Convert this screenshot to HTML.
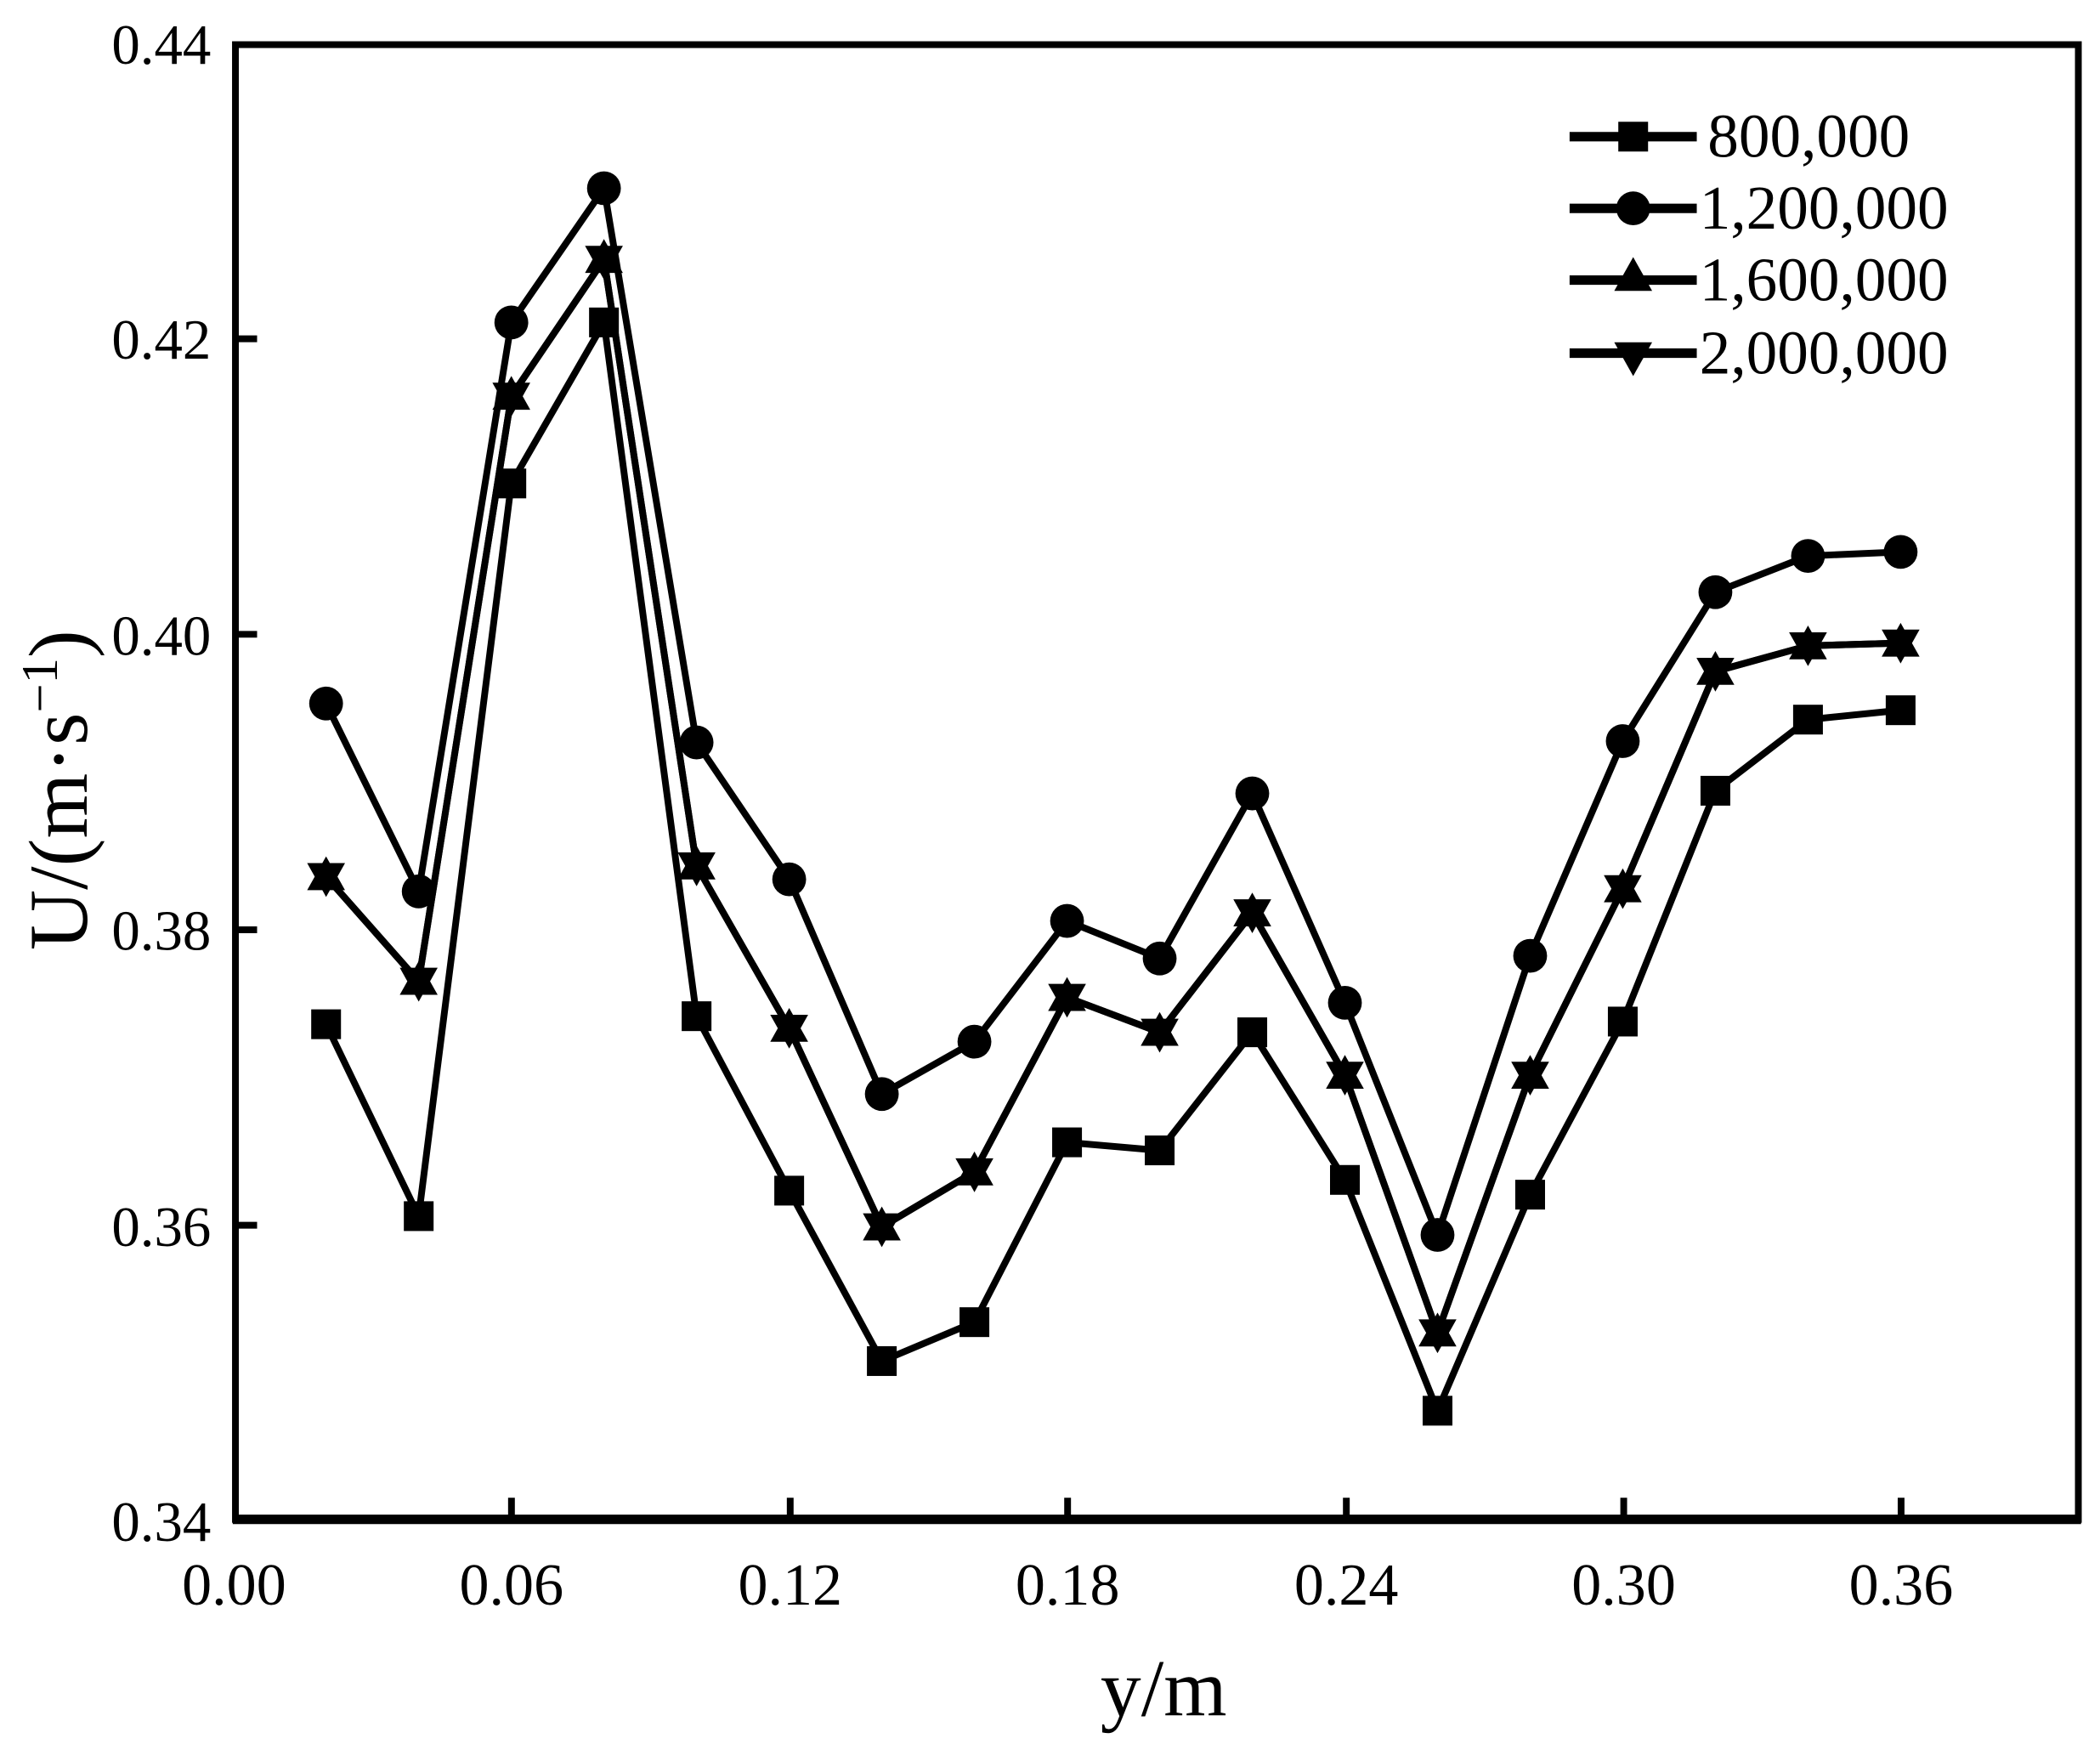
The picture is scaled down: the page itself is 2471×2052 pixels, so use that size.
<!DOCTYPE html>
<html><head><meta charset="utf-8"><style>
html,body{margin:0;padding:0;background:#fff}
svg{display:block}
text{font-family:"Liberation Serif","Times New Roman",serif;fill:#000}
</style></head><body>
<svg id="s" width="2471" height="2052" viewBox="0 0 1552 1289" preserveAspectRatio="none" xmlns="http://www.w3.org/2000/svg">
<rect x="0" y="0" width="1552" height="1289" fill="#fff"/>
<g id="data"></g>
<rect x="174" y="33" width="1362" height="1090" fill="none" stroke="#000" stroke-width="5"/>
<line x1="172" y1="1123" x2="1538" y2="1123" stroke="#000" stroke-width="7"/>
<g stroke="#000" stroke-width="5">
<line x1="378" y1="1123" x2="378" y2="1107"/>
<line x1="584" y1="1123" x2="584" y2="1107"/>
<line x1="789" y1="1123" x2="789" y2="1107"/>
<line x1="995" y1="1123" x2="995" y2="1107"/>
<line x1="1200" y1="1123" x2="1200" y2="1107"/>
<line x1="1405" y1="1123" x2="1405" y2="1107"/>
<line x1="174" y1="250.4" x2="190" y2="250.4"/>
<line x1="174" y1="468.8" x2="190" y2="468.8"/>
<line x1="174" y1="687.2" x2="190" y2="687.2"/>
<line x1="174" y1="905.6" x2="190" y2="905.6"/>
</g>
<g font-size="42" text-anchor="end">
<text x="156" y="47">0.44</text>
<text x="156" y="265">0.42</text>
<text x="156" y="484">0.40</text>
<text x="156" y="702">0.38</text>
<text x="156" y="921">0.36</text>
<text x="156" y="1139">0.34</text>
</g>
<g font-size="44" text-anchor="middle">
<text x="173" y="1186">0.00</text>
<text x="378" y="1186">0.06</text>
<text x="584" y="1186">0.12</text>
<text x="789" y="1186">0.18</text>
<text x="995" y="1186">0.24</text>
<text x="1200" y="1186">0.30</text>
<text x="1405" y="1186">0.36</text>
</g>
<text x="860" y="1268" font-size="60" text-anchor="middle">y/m</text>
<text transform="translate(64,584) rotate(-90)" font-size="62" text-anchor="middle">U/(m·s<tspan font-size="38" dy="-22">−1</tspan><tspan dy="22">)</tspan></text>
<g id="leg"></g>
<g font-size="46">
<text x="1262" y="116">800,000</text>
<text x="1256" y="169">1,200,000</text>
<text x="1256" y="222">1,600,000</text>
<text x="1256" y="276">2,000,000</text>
</g>
</svg>
<script>
var NS="http://www.w3.org/2000/svg";
function el(p,t,a){var e=document.createElementNS(NS,t);for(var k in a)e.setAttribute(k,a[k]);p.appendChild(e);return e;}
var xs=[];for(var i=0;i<18;i++)xs.push(241+i*68.45);
function fy(y){return 32+(y-32)*1092/1101;}
var sq=[763,906,360,240,757,887,1014,985,851,857,769,879,1051,890,761,589,536,529];
var ci=[524,664,240,140,553,655,815,776,686,714,591,747,920,712,552,441,414,411];
var tr=[653,731,295,193,645,766,914,873,743,769,680,801,993,801,662,500,481,479];
var g=document.getElementById('data');
function line(arr){var p=arr.map(function(y,i){return xs[i].toFixed(1)+","+fy(y).toFixed(1)}).join(" ");
el(g,'polyline',{points:p,fill:'none',stroke:'#000','stroke-width':5,'stroke-linejoin':'round'});}
function square(p,x,y){el(p,'rect',{x:x-11,y:y-11,width:22,height:22,fill:'#000'});}
function circle(p,x,y){el(p,'circle',{cx:x,cy:y,r:12.5,fill:'#000'});}
function up(p,x,y){el(p,'polygon',{points:(x)+","+(y-15)+" "+(x-14)+","+(y+10)+" "+(x+14)+","+(y+10),fill:'#000'});}
function dn(p,x,y){el(p,'polygon',{points:(x)+","+(y+15)+" "+(x-14)+","+(y-10)+" "+(x+14)+","+(y-10),fill:'#000'});}
line(sq);line(ci);line(tr);line(tr);
for(var i=0;i<18;i++){square(g,xs[i],fy(sq[i]));circle(g,xs[i],fy(ci[i]));up(g,xs[i],fy(tr[i]));dn(g,xs[i],fy(tr[i]));}
var L=document.getElementById('leg');var ly=[101,154,207,261];
for(var j=0;j<4;j++){el(L,'line',{x1:1160,y1:ly[j],x2:1254,y2:ly[j],stroke:'#000','stroke-width':7});}
square(L,1207,ly[0]);circle(L,1207,ly[1]);up(L,1207,ly[2]-2);dn(L,1207,ly[3]+2);
</script>
</body></html>
